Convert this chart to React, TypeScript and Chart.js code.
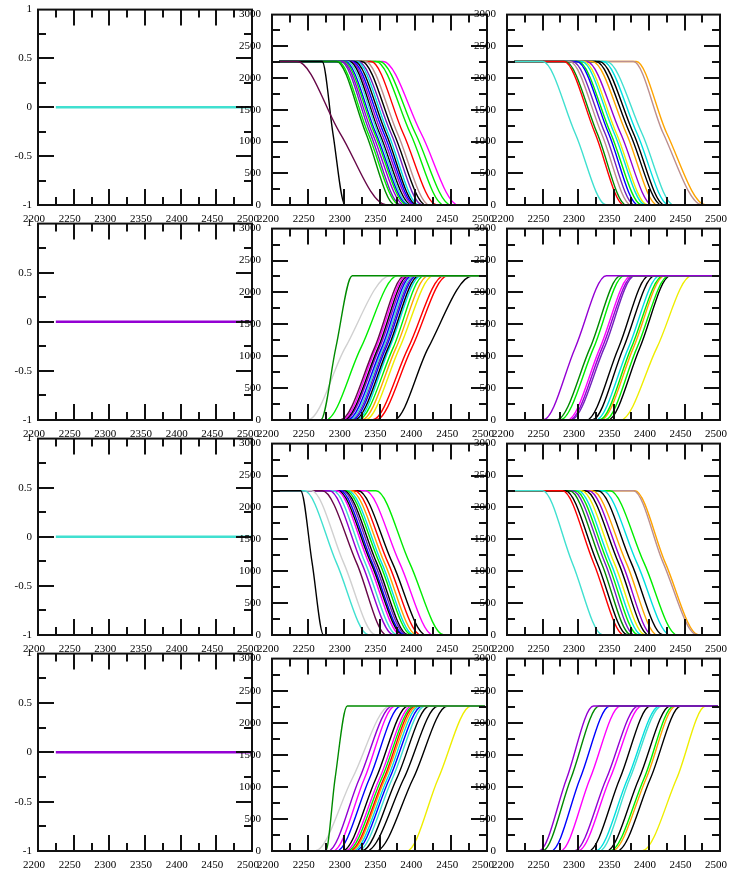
import React, { useEffect, useRef } from 'react';
import { Chart, registerables } from 'chart.js';

Chart.register(...registerables);

// ---------- data ----------
const X_MIN = 2200;
const X_MAX = 2500;
const X_STEP = 50;
const CURVE_BEGIN = 2210;
const CURVE_FINISH = 2497;
const PLATEAU = 2260;
const FLAT_X = [2225, 2500];
const FLAT_Y = [0, 0];
const LEFT_Y_RANGE = [-1, 1];
const LEFT_Y_STEP = 0.5;
const RIGHT_Y_RANGE = [0, 3000];
const RIGHT_Y_STEP = 500;

// Grace colour map index -> colour
const PALETTE = [
  '#ffffff', '#000000', '#ff0000', '#00ee00', '#0000ff', '#eeee00', '#bc8f8f',
  '#d0d0d0', '#9400d3', '#00e0e0', '#ff00ff', '#ffa500', '#7221bc', '#670748',
  '#40e0d0', '#008b00',
];

// each curve: [x where it leaves its plateau, x at half height, x where it reaches the other level, colour index]
type Curve = [number, number, number, number];

const R1C2: Curve[] = [
  [2235, 2295, 2360, 13], [2270, 2285, 2302, 1], [2290, 2331, 2372, 15],
  [2292, 2334, 2378, 3], [2296, 2337, 2380, 12], [2298, 2340, 2385, 8],
  [2300, 2343, 2388, 3], [2302, 2345, 2390, 4], [2305, 2348, 2392, 14],
  [2308, 2350, 2395, 1], [2310, 2353, 2398, 8], [2312, 2356, 2400, 4],
  [2315, 2359, 2402, 1], [2318, 2362, 2405, 9], [2320, 2366, 2410, 12],
  [2325, 2370, 2415, 1], [2330, 2375, 2420, 6], [2338, 2383, 2430, 2],
  [2345, 2393, 2440, 3], [2350, 2400, 2450, 3], [2355, 2408, 2460, 10],
];
const R1C3: Curve[] = [
  [2250, 2296, 2340, 14], [2280, 2324, 2365, 2], [2282, 2327, 2368, 15],
  [2288, 2333, 2375, 6], [2292, 2338, 2380, 12], [2298, 2343, 2385, 4],
  [2300, 2346, 2390, 3], [2305, 2351, 2395, 9], [2308, 2354, 2398, 5],
  [2312, 2360, 2405, 8], [2320, 2368, 2412, 11], [2325, 2373, 2418, 1],
  [2330, 2378, 2422, 1], [2335, 2383, 2428, 9], [2340, 2390, 2435, 14],
  [2378, 2420, 2475, 6], [2382, 2425, 2480, 11],
];
const R2C2: Curve[] = [
  [2268, 2289, 2312, 15], [2250, 2302, 2365, 7], [2275, 2324, 2375, 3],
  [2295, 2343, 2385, 13], [2298, 2345, 2388, 10], [2300, 2348, 2390, 1],
  [2302, 2350, 2393, 8], [2305, 2353, 2395, 4], [2308, 2355, 2398, 14],
  [2310, 2357, 2400, 12], [2312, 2359, 2402, 4], [2315, 2362, 2405, 1],
  [2318, 2364, 2408, 9], [2320, 2369, 2412, 3], [2325, 2373, 2418, 11],
  [2330, 2378, 2425, 5], [2340, 2390, 2440, 2], [2345, 2395, 2445, 2],
  [2370, 2418, 2480, 1],
];
const R2C3: Curve[] = [
  [2251, 2296, 2340, 8], [2270, 2317, 2360, 15], [2275, 2322, 2365, 3],
  [2285, 2331, 2375, 10], [2288, 2334, 2378, 8], [2290, 2337, 2380, 12],
  [2312, 2357, 2400, 1], [2320, 2364, 2408, 1], [2325, 2371, 2415, 9],
  [2330, 2375, 2420, 3], [2332, 2378, 2422, 11], [2338, 2383, 2428, 3],
  [2342, 2387, 2430, 1], [2360, 2411, 2460, 5],
];
const R3C2: Curve[] = [
  [2240, 2256, 2272, 1], [2245, 2290, 2335, 14], [2255, 2300, 2345, 7],
  [2270, 2318, 2360, 13], [2280, 2325, 2370, 8], [2285, 2330, 2375, 14],
  [2290, 2335, 2380, 10], [2292, 2338, 2383, 1], [2295, 2340, 2385, 4],
  [2298, 2343, 2388, 12], [2300, 2346, 2390, 1], [2303, 2350, 2395, 3],
  [2306, 2353, 2398, 9], [2310, 2357, 2402, 11], [2315, 2362, 2408, 2],
  [2320, 2368, 2415, 1], [2330, 2378, 2425, 10], [2345, 2392, 2440, 3],
];
const R3C3: Curve[] = [
  [2250, 2292, 2335, 14], [2278, 2322, 2365, 2], [2282, 2327, 2370, 1],
  [2288, 2333, 2375, 15], [2292, 2338, 2380, 12], [2296, 2342, 2385, 3],
  [2300, 2346, 2390, 9], [2305, 2351, 2395, 5], [2310, 2357, 2400, 1],
  [2315, 2362, 2405, 8], [2320, 2368, 2412, 11], [2328, 2375, 2420, 1],
  [2335, 2383, 2430, 9], [2345, 2393, 2440, 3], [2378, 2420, 2468, 6],
  [2380, 2423, 2470, 11],
];
const R4C2: Curve[] = [
  [2275, 2288, 2305, 15], [2260, 2312, 2365, 7], [2278, 2322, 2368, 8],
  [2285, 2329, 2372, 10], [2290, 2336, 2380, 4], [2298, 2345, 2390, 1],
  [2302, 2350, 2395, 10], [2305, 2353, 2398, 3], [2308, 2356, 2400, 2],
  [2310, 2358, 2403, 11], [2313, 2361, 2406, 9], [2316, 2364, 2410, 4],
  [2320, 2368, 2414, 14], [2325, 2374, 2420, 1], [2332, 2384, 2432, 1],
  [2345, 2397, 2445, 1], [2388, 2432, 2478, 5],
];
const R4C3: Curve[] = [
  [2245, 2284, 2322, 8], [2250, 2290, 2330, 15], [2262, 2303, 2345, 4],
  [2275, 2317, 2360, 10], [2295, 2340, 2385, 8], [2300, 2345, 2390, 10],
  [2315, 2359, 2402, 1], [2325, 2370, 2415, 9], [2330, 2373, 2418, 14],
  [2340, 2386, 2430, 1], [2345, 2393, 2435, 3], [2348, 2396, 2438, 11],
  [2355, 2402, 2445, 1], [2390, 2439, 2480, 5],
];

// ---------- layout ----------
const COL_LEFT = [38, 272, 507];
const COL_WIDTH = [214, 215, 213];
const ROW_TOP = [9, 223, 438, 653];
const ROW_HEIGHT = [196, 197, 197, 198];
const PAD_L = 40;
const PAD_T = 12;
const PAD_R = 26;
const PAD_B = 26;
const FONT = { family: "'Liberation Serif', 'DejaVu Serif', serif", size: 11 };

type PanelSpec = {
  row: number;
  col: number;
  kind: 'flat' | 'down' | 'up';
  curves?: Curve[];
  flatColor?: number;
};

const PANELS: PanelSpec[] = [
  { row: 0, col: 0, kind: 'flat', flatColor: 14 },
  { row: 0, col: 1, kind: 'down', curves: R1C2 },
  { row: 0, col: 2, kind: 'down', curves: R1C3 },
  { row: 1, col: 0, kind: 'flat', flatColor: 8 },
  { row: 1, col: 1, kind: 'up', curves: R2C2 },
  { row: 1, col: 2, kind: 'up', curves: R2C3 },
  { row: 2, col: 0, kind: 'flat', flatColor: 14 },
  { row: 2, col: 1, kind: 'down', curves: R3C2 },
  { row: 2, col: 2, kind: 'down', curves: R3C3 },
  { row: 3, col: 0, kind: 'flat', flatColor: 8 },
  { row: 3, col: 1, kind: 'up', curves: R4C2 },
  { row: 3, col: 2, kind: 'up', curves: R4C3 },
];

function curveDataset(c: Curve, kind: 'down' | 'up') {
  const [s, m, e, color] = c;
  const hi = PLATEAU;
  const from = kind === 'down' ? hi : 0;
  const to = kind === 'down' ? 0 : hi;
  return {
    data: [
      { x: CURVE_BEGIN, y: from },
      { x: s, y: from },
      { x: m, y: hi / 2 },
      { x: e, y: to },
      { x: CURVE_FINISH, y: to },
    ],
    borderColor: PALETTE[color],
    borderWidth: 1.4,
    cubicInterpolationMode: 'monotone' as const,
    pointRadius: 0,
    fill: false,
  };
}

const frameTicks = {
  id: 'frameTicks',
  afterDatasetsDraw(chart: any, _args: any, opts: any) {
    const { ctx, chartArea: a, scales } = chart;
    const x = scales.x;
    const y = scales.y;
    ctx.save();
    ctx.strokeStyle = '#111';
    ctx.lineWidth = 2;
    ctx.lineCap = 'butt';
    const MAJ = 16;
    const MIN = 8;
    ctx.beginPath();
    const xMinor = X_STEP / 2;
    for (let v = X_MIN + xMinor, i = 1; v < X_MAX - 1e-6; v += xMinor, i++) {
      const px = Math.round(x.getPixelForValue(v));
      const len = i % 2 === 0 ? MAJ : MIN;
      ctx.moveTo(px, a.bottom);
      ctx.lineTo(px, a.bottom - len);
      ctx.moveTo(px, a.top);
      ctx.lineTo(px, a.top + len);
    }
    const yMinor = opts.yStep / 2;
    for (let v = opts.yMin + yMinor, i = 1; v < opts.yMax - 1e-6; v += yMinor, i++) {
      const py = Math.round(y.getPixelForValue(v));
      const len = i % 2 === 0 ? MAJ : MIN;
      ctx.moveTo(a.left, py);
      ctx.lineTo(a.left + len, py);
      ctx.moveTo(a.right, py);
      ctx.lineTo(a.right - len, py);
    }
    ctx.stroke();
    ctx.strokeRect(a.left, a.top, a.right - a.left, a.bottom - a.top);
    ctx.restore();
  },
};

function Panel({ spec }: { spec: PanelSpec }) {
  const ref = useRef<HTMLCanvasElement | null>(null);
  const w = COL_WIDTH[spec.col];
  const h = ROW_HEIGHT[spec.row];
  const cw = w + PAD_L + PAD_R;
  const ch = h + PAD_T + PAD_B;
  const left = COL_LEFT[spec.col] - PAD_L;
  const top = ROW_TOP[spec.row] - PAD_T;

  useEffect(() => {
    if (!ref.current) return;
    const isFlat = spec.kind === 'flat';
    const yr = isFlat ? LEFT_Y_RANGE : RIGHT_Y_RANGE;
    const ys = isFlat ? LEFT_Y_STEP : RIGHT_Y_STEP;
    const datasets = isFlat
      ? [
          {
            data: FLAT_X.map((xv, i) => ({ x: xv, y: FLAT_Y[i] })),
            borderColor: PALETTE[spec.flatColor || 14],
            borderWidth: 2.5,
            pointRadius: 0,
            fill: false,
          },
        ]
      : (spec.curves || []).map((c) => curveDataset(c, spec.kind as 'down' | 'up'));

    const chart = new Chart(ref.current, {
      type: 'line',
      data: { datasets: datasets as any },
      plugins: [frameTicks as any],
      options: {
        animation: false,
        responsive: false,
        maintainAspectRatio: false,
        events: [],
        layout: { padding: { top: PAD_T, right: PAD_R, left: 0, bottom: 0 } },
        plugins: {
          legend: { display: false },
          tooltip: { enabled: false },
          frameTicks: { yMin: yr[0], yMax: yr[1], yStep: ys },
        } as any,
        scales: {
          x: {
            type: 'linear',
            min: X_MIN,
            max: X_MAX,
            afterFit: (s: any) => {
              s.height = PAD_B;
            },
            grid: { display: false, drawTicks: false },
            border: { display: false },
            ticks: {
              stepSize: X_STEP,
              padding: 8,
              labelOffset: -4,
              maxRotation: 0,
              autoSkip: false,
              font: FONT,
              color: '#000',
              callback: (v: any) => String(v),
            },
          },
          y: {
            type: 'linear',
            min: yr[0],
            max: yr[1],
            afterFit: (s: any) => {
              s.width = PAD_L;
            },
            grid: { display: false, drawTicks: false },
            border: { display: false },
            ticks: {
              stepSize: ys,
              padding: isFlat ? 6 : 11,
              autoSkip: false,
              font: FONT,
              color: '#000',
              callback: (v: any) => String(v),
            },
          },
        },
      },
    });
    return () => chart.destroy();
  }, []);

  return (
    <canvas
      ref={ref}
      width={cw}
      height={ch}
      style={{ position: 'absolute', left, top, width: cw, height: ch }}
    />
  );
}

export default function App() {
  return (
    <div
      style={{
        position: 'fixed',
        left: 0,
        top: 0,
        width: 737,
        height: 873,
        background: '#fff',
        overflow: 'hidden',
      }}
    >
      {PANELS.map((p, i) => (
        <Panel key={i} spec={p} />
      ))}
    </div>
  );
}
